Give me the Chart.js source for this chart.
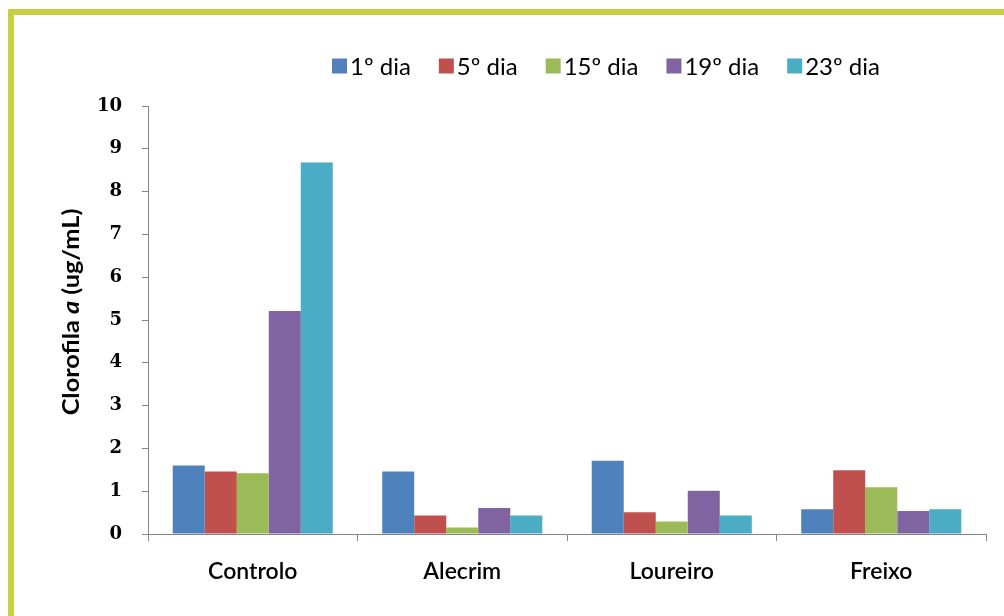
<!DOCTYPE html>
<html>
<head>
<meta charset="utf-8">
<script src="https://cdn.jsdelivr.net/npm/chart.js@4.4.1/dist/chart.umd.min.js"></script>
<style>
  html, body { margin: 0; padding: 0; background: #ffffff; width: 1004px; height: 616px; overflow: hidden; }
  #frame { position: absolute; left: 8px; top: 9px; width: 1100px; height: 700px;
           border-left: 6px solid #c9cf45; border-top: 6px solid #c9cf45; box-sizing: border-box; }
  #wrap { position: absolute; left: 0; top: 0; width: 1004px; height: 616px; }
</style>
</head>
<body>
<div id="frame"></div>
<div id="wrap"><canvas id="c" width="1004" height="616"></canvas></div>
<script>
const categories = ['Controlo', 'Alecrim', 'Loureiro', 'Freixo'];
const seriesLabels = ['1º dia', '5º dia', '15º dia', '19º dia', '23º dia'];
const dia1  = [1.60, 1.46, 1.71, 0.58];
const dia5  = [1.46, 0.43, 0.51, 1.49];
const dia15 = [1.42, 0.15, 0.29, 1.09];
const dia19 = [5.21, 0.61, 1.01, 0.54];
const dia23 = [8.68, 0.43, 0.43, 0.58];
const seriesColors = ['#4f81bd', '#c0504d', '#9bbb59', '#8064a2', '#4bacc6'];
const yMin = 0, yMax = 10, yStep = 1;
const yTitleParts = [['Clorofila ', 'bold'], ['a', 'italic bold'], [' (ug/mL)', 'bold']];

const seriesValues = [dia1, dia5, dia15, dia19, dia23];
const AXIS = '#868686';

const customDraw = {
  id: 'customDraw',
  afterDraw(chart) {
    const ctx = chart.ctx;
    // Legend
    ctx.save();
    ctx.font = '24px Lato';
    ctx.textBaseline = 'middle';
    ctx.textAlign = 'left';
    let x = 332;
    const cy = 66, box = 15, gap = 3, spacing = 28;
    chart.data.datasets.forEach(ds => {
      ctx.fillStyle = ds.backgroundColor;
      ctx.fillRect(x, cy - box / 2, box, box);
      x += box + gap;
      ctx.fillStyle = '#000000';
      ctx.fillText(ds.label, x, cy + 1);
      x += ctx.measureText(ds.label).width + spacing;
    });
    ctx.restore();
    // Y axis title
    ctx.save();
    const area = chart.chartArea;
    ctx.translate(72, (area.top + area.bottom) / 2 - 8);
    ctx.rotate(-Math.PI / 2);
    ctx.scale(1.15, 1);
    ctx.fillStyle = '#000000';
    ctx.textBaseline = 'middle';
    let total = 0;
    yTitleParts.forEach(p => { ctx.font = p[1] + ' 22px Lato'; total += ctx.measureText(p[0]).width; });
    let tx = -total / 2;
    yTitleParts.forEach(p => {
      ctx.font = p[1] + ' 22px Lato';
      ctx.fillText(p[0], tx, 0);
      tx += ctx.measureText(p[0]).width;
    });
    ctx.restore();
  }
};

new Chart(document.getElementById('c'), {
  type: 'bar',
  data: {
    labels: categories,
    datasets: seriesLabels.map((lab, i) => ({
      label: lab,
      data: seriesValues[i],
      backgroundColor: seriesColors[i],
      borderWidth: 0,
      categoryPercentage: 0.764,
      barPercentage: 1.0
    }))
  },
  options: {
    responsive: false,
    animation: false,
    devicePixelRatio: 1,
    layout: { padding: { top: 106, right: 18, bottom: 0, left: 0 } },
    plugins: { legend: { display: false }, tooltip: { enabled: false } },
    scales: {
      x: {
        grid: { display: true, drawOnChartArea: false, offset: true, color: AXIS, tickLength: 7, lineWidth: 1 },
        border: { display: true, color: AXIS, width: 1 },
        ticks: { color: '#000000', font: { family: 'Lato', size: 23, weight: '600' }, padding: 17, maxRotation: 0 },
        afterFit(s) { s.height = 82; }
      },
      y: {
        min: yMin, max: yMax,
        grid: { display: true, drawOnChartArea: false, color: AXIS, tickLength: 6, lineWidth: 1 },
        border: { display: true, color: AXIS, width: 1 },
        ticks: { stepSize: yStep, color: '#000000', font: { family: 'DejaVu Serif', size: 18, weight: 'bold' }, padding: 20 },
        afterFit(s) { s.width = 148; }
      }
    }
  },
  plugins: [customDraw]
});
</script>
</body>
</html>
